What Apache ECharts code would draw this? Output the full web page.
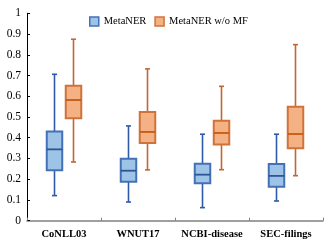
<!DOCTYPE html>
<html>
<head>
<meta charset="utf-8">
<script src="https://cdn.jsdelivr.net/npm/echarts@6/dist/echarts.min.js"></script>
<style>html,body{margin:0;padding:0;background:#fff}#c{width:332px;height:248px}</style>
</head>
<body>
<div id="c"></div>
<script>
// Data (low, q1, median, q3, high) per category
const categories = ['CoNLL03', 'WNUT17', 'NCBI-disease', 'SEC-filings'];
const seriesNames = ['MetaNER', 'MetaNER w/o MF'];
const metaNER = [
  [0.121, 0.243, 0.344, 0.430, 0.706],
  [0.090, 0.188, 0.241, 0.299, 0.457],
  [0.063, 0.180, 0.222, 0.275, 0.417],
  [0.095, 0.164, 0.216, 0.273, 0.417]
];
const metaNERwoMF = [
  [0.283, 0.494, 0.582, 0.651, 0.875],
  [0.245, 0.375, 0.428, 0.524, 0.732],
  [0.246, 0.368, 0.423, 0.482, 0.648],
  [0.217, 0.349, 0.418, 0.550, 0.849]
];
const yTicks = [0, 0.1, 0.2, 0.3, 0.4, 0.5, 0.6, 0.7, 0.8, 0.9, 1];

const FONT = '"Liberation Serif", "Times New Roman", serif';
const styles = [
  {fill: '#9DC3E6', border: '#4470B8', line: '#2F5AA8', median: '#2F5597', offset: -9.5},
  {fill: '#F4B183', border: '#D0733A', line: '#C4672E', median: '#C55A11', offset: 9.5}
];

function makeRender(st) {
  return function (params, api) {
    const ci = api.value(0);
    const cx = api.coord([ci, 0])[0] + st.offset;
    const yLow = api.coord([ci, api.value(1)])[1];
    const yQ1 = api.coord([ci, api.value(2)])[1];
    const yMed = api.coord([ci, api.value(3)])[1];
    const yQ3 = api.coord([ci, api.value(4)])[1];
    const yHigh = api.coord([ci, api.value(5)])[1];
    const bw = 15.5, cw = 2.5;
    return {
      type: 'group',
      children: [
        {type: 'line', shape: {x1: cx, y1: yHigh, x2: cx, y2: yLow}, style: {stroke: st.line, lineWidth: 1.6}},
        {type: 'line', shape: {x1: cx - cw, y1: yHigh, x2: cx + cw, y2: yHigh}, style: {stroke: st.line, lineWidth: 1.6}},
        {type: 'line', shape: {x1: cx - cw, y1: yLow, x2: cx + cw, y2: yLow}, style: {stroke: st.line, lineWidth: 1.6}},
        {type: 'rect', shape: {x: cx - bw / 2, y: yQ3, width: bw, height: yQ1 - yQ3}, style: {fill: st.fill, stroke: st.border, lineWidth: 2}},
        {type: 'line', shape: {x1: cx - bw / 2, y1: yMed, x2: cx + bw / 2, y2: yMed}, style: {stroke: st.median, lineWidth: 1.8}}
      ]
    };
  };
}

function toData(arr) {
  return arr.map((v, i) => [i].concat(v));
}

const chart = echarts.init(document.getElementById('c'), null, {renderer: 'canvas'});
chart.setOption({
  animation: false,
  backgroundColor: '#fff',
  legend: {
    left: 89, top: 16, padding: 0,
    itemWidth: 9, itemHeight: 9, itemGap: 8,
    icon: 'rect',
    textStyle: {fontFamily: FONT, fontSize: 10.5, color: '#000'},
    data: seriesNames.map((n, i) => ({name: n, itemStyle: {color: styles[i].fill, borderColor: styles[i].border, borderWidth: 1.5}}))
  },
  grid: {left: 27, right: 9, top: 13.3, bottom: 27.3},
  xAxis: {
    type: 'category',
    data: categories,
    boundaryGap: true,
    axisLine: {lineStyle: {color: '#808080', width: 1.5}},
    axisTick: {show: true, inside: true, length: 3, alignWithLabel: false, lineStyle: {color: '#808080'}},
    axisLabel: {fontFamily: FONT, fontSize: 10.5, fontWeight: 'bold', color: '#000', margin: 8, interval: 0},
    splitLine: {show: false}
  },
  yAxis: {
    type: 'value',
    min: 0, max: 1, interval: 0.1,
    axisLine: {show: true, lineStyle: {color: '#000', width: 1}},
    axisTick: {show: true, inside: true, length: 3, lineStyle: {color: '#000'}},
    axisLabel: {fontFamily: FONT, fontSize: 11.5, color: '#000', margin: 6,
      formatter: v => { const t = yTicks.find(x => Math.abs(x - v) < 1e-6); return t === undefined ? '' : String(t); }},
    splitLine: {show: false}
  },
  series: [
    {name: seriesNames[0], type: 'custom', renderItem: makeRender(styles[0]), data: toData(metaNER),
     encode: {x: 0, y: [1, 2, 3, 4, 5]}, itemStyle: {color: styles[0].fill}},
    {name: seriesNames[1], type: 'custom', renderItem: makeRender(styles[1]), data: toData(metaNERwoMF),
     encode: {x: 0, y: [1, 2, 3, 4, 5]}, itemStyle: {color: styles[1].fill}}
  ]
});
</script>
</body>
</html>
